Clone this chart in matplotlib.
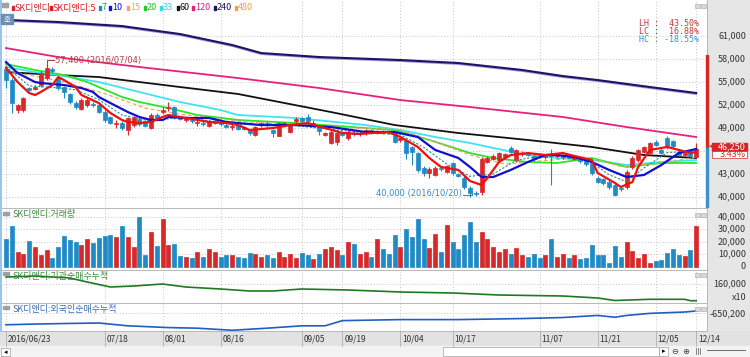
import numpy as np
import matplotlib.pyplot as plt
from matplotlib.patches import Rectangle
from matplotlib.transforms import blended_transform_factory as blend

plt.rcParams['font.family'] = ['Noto Sans CJK KR', 'DejaVu Sans']

# ---------------- data ----------------
tick_idx = [0, 17, 27, 37, 51, 58, 68, 77, 92, 102, 112, 119]
tick_lbl = ['2016/06/23', '07/18', '08/01', '08/16', '09/05', '09/19',
            '10/04', '10/17', '11/07', '11/21', '12/05', '12/14']

opens = [56700, 55300, 51400, 51300, 54200, 54100, 54600, 55500, 56700, 55500,
         54300, 53400, 52300, 51500, 52000, 52200, 52000, 51100, 50400, 49500,
         49700, 48700, 49400, 50200, 49900, 49000, 50700, 51100, 51600, 51700,
         50400, 50000, 50100, 49700, 49700, 49300, 49700, 49700, 49400, 49100,
         49200, 49100, 48700, 48100, 49400, 49700, 48700, 48000, 49400, 48500,
         49900, 50300, 50500, 49500, 49100, 48100, 47000, 47200, 48400, 47700,
         48400, 48200, 48300, 48700, 48400, 48500, 48600, 48400, 47400, 47400,
         46500, 45700, 43800, 43200, 42900, 43800, 43300, 44400, 43000, 42500,
         41200, 40500, 40700, 44600, 45000, 44800, 45200, 46400, 44800, 45600,
         45700, 45400, 45500, 45200, 45600, 45300, 45200, 45300, 45000, 45100,
         44800, 44400, 42500, 42300, 42000, 41600, 41200, 41300, 43900, 44800,
         45900, 45700, 47200, 46200, 47700, 47300, 45900, 45500, 46000, 45200]
closes = [55300, 52300, 52000, 52900, 54000, 54300, 56200, 56800, 56400, 54200,
          53700, 52400, 51700, 52700, 52700, 52000, 51100, 50000, 49700, 49600,
          49000, 50300, 50400, 49500, 49300, 50700, 50300, 51300, 51700, 50400,
          50200, 50400, 49900, 49800, 49500, 49900, 49900, 49500, 49200, 49200,
          48900, 48900, 48300, 49100, 49600, 49400, 48300, 49600, 49600, 49400,
          50200, 49900, 49900, 49600, 48600, 48300, 48500, 48400, 48100, 48500,
          48200, 48400, 48700, 48400, 48500, 48400, 48400, 47200, 47700, 45700,
          45900, 43500, 43100, 43700, 43800, 43600, 44000, 43100, 42800, 41300,
          40500, 40400, 44900, 45100, 45400, 45700, 45600, 45900, 46100, 45800,
          45500, 44900, 45300, 45400, 45400, 45500, 45400, 45100, 45200, 44700,
          44300, 43100, 42000, 41800, 41300, 40300, 41000, 43300, 45100, 46100,
          46500, 47000, 46800, 45800, 46500, 46600, 45500, 45800, 45400, 46250]
highs = [57200, 55500, 52200, 53000, 54400, 54600, 56400, 57400, 57000, 55800,
         54500, 53600, 52500, 52900, 53000, 52400, 52200, 51300, 50600, 50000,
         49900, 50500, 50600, 50400, 50100, 51000, 50900, 51800, 52400, 51900,
         50600, 50600, 50300, 50200, 49900, 50100, 50100, 49900, 49600, 49500,
         49400, 49300, 48900, 49300, 49800, 49900, 48900, 49800, 49800, 49600,
         50400, 50500, 50800, 50000, 49300, 48500, 48700, 48600, 48600, 48700,
         48600, 48600, 48900, 48900, 48700, 48700, 48800, 48600, 47900, 47600,
         46700, 45900, 44000, 43900, 44000, 44000, 44200, 44600, 43200, 42700,
         41400, 40800, 45200, 45300, 45600, 45900, 45800, 46600, 46300, 46000,
         45900, 45600, 45700, 45600, 46300, 45700, 45600, 45500, 45400, 45300,
         45000, 44600, 42700, 42500, 42200, 41800, 41400, 43500, 45300, 46300,
         46700, 47200, 47400, 46400, 47900, 47500, 46100, 46000, 46200, 47000]
lows = [54200, 51000, 50900, 51100, 53800, 53900, 54400, 55300, 56200, 54000,
        52900, 52200, 51500, 51300, 51800, 51800, 50900, 49800, 49500, 49000,
        48800, 48100, 49200, 49300, 49100, 48900, 50100, 50800, 51200, 50200,
        50000, 49800, 49700, 49300, 49300, 49100, 49500, 49300, 49000, 48700,
        48700, 48700, 48100, 47900, 49200, 49200, 47800, 47900, 49200, 48300,
        49700, 49700, 49700, 49200, 48100, 47900, 46900, 46800, 47900, 47500,
        48000, 48000, 48100, 48200, 48200, 48200, 48200, 47000, 47200, 45000,
        44200, 43300, 42700, 42500, 42700, 43400, 43100, 42900, 42600, 41100,
        40000, 40200, 40300, 44400, 44800, 44600, 45000, 45700, 44600, 45400,
        45300, 44700, 45100, 45000, 41600, 45100, 45000, 44900, 44800, 44500,
        44100, 42900, 41800, 41600, 41100, 40100, 40800, 41100, 43700, 44600,
        45700, 45500, 46600, 45600, 46300, 46400, 45300, 45300, 45200, 45100]

volume = [21.9, 32.6, 11.5, 10.2, 20.6, 16.0, 9.4, 13.4, 6.7, 15.5,
          24.5, 21.4, 19.5, 17.4, 22.2, 19.2, 22.7, 24.5, 25.1, 23.5,
          32.6, 23.5, 15.8, 40.0, 9.4, 27.5, 16.8, 38.2, 17.4, 18.4,
          8.8, 7.8, 7.2, 11.8, 7.8, 14.2, 11.5, 8.0, 9.4, 9.4,
          8.0, 7.2, 11.0, 9.9, 8.0, 9.0, 7.0, 12.0, 8.0, 10.0,
          7.0, 11.0, 9.0, 6.0, 10.0, 14.0, 16.0, 13.0, 9.0, 20.0,
          18.0, 10.0, 12.0, 8.0, 22.0, 14.0, 10.0, 25.0, 16.0, 30.0,
          24.0, 38.0, 22.0, 15.0, 26.0, 12.0, 33.0, 20.0, 14.0, 25.0,
          36.0, 20.0, 28.0, 22.0, 16.0, 12.0, 14.0, 10.0, 15.0, 9.0,
          8.0, 10.0, 7.0, 9.0, 22.0, 8.0, 10.0, 7.0, 9.0, 6.0,
          7.0, 17.0, 9.3, 9.3, 2.9, 16.5, 8.0, 20.0, 12.5, 6.7,
          10.0, 3.2, 4.5, 5.3, 11.2, 13.9, 9.3, 8.8, 13.4, 32.6]  # thousand shares

# moving averages, read at sample candles
ma5_i = [0, 2, 4, 5, 6, 8, 9, 10, 12, 13, 16, 18, 20, 21, 23, 25, 27, 28, 30, 32,
         35, 38, 40, 42, 46, 49, 52, 55, 58, 61, 63, 66, 68, 71, 73, 75, 78, 80, 82, 83,
         85, 87, 90, 93, 96, 98, 101, 102, 105, 106, 108, 109, 111, 114, 116, 118, 119]
ma5_v = [56830, 55000, 53570, 53310, 53700, 54610, 55650, 55260, 54350, 53310,
         52260, 50960, 50050, 49790, 49650, 49790, 50440, 50700, 50440, 50180,
         49790, 49650, 49390, 48740, 49000, 49390, 49650, 49000, 48350, 48220,
         48350, 48480, 47830, 46530, 45090, 43920, 43530, 42090, 41570, 42480,
         44570, 45480, 45740, 45480, 45740, 45350, 44830, 43140, 41830, 41310,
         41960, 43920, 46140, 46530, 46140, 45740, 45870]
ma7_i = [0, 4, 8, 12, 16, 20, 25, 30, 40, 50, 60, 68, 72, 76, 80, 84, 88, 94,
         100, 104, 107, 110, 114, 119]
ma7_v = [57000, 54500, 54300, 54000, 52700, 50700, 49900, 50400, 49500, 49300,
         48500, 48100, 46500, 44300, 42700, 43000, 44800, 45600, 45000, 42900,
         42000, 43800, 45800, 46000]
ma10_i = [0, 2, 5, 6, 8, 10, 13, 15, 16, 18, 21, 23, 25, 27, 28, 31, 35, 38, 40, 44,
          50, 56, 62, 67, 71, 74, 78, 80, 82, 84, 87, 90, 93, 95, 98, 101, 104, 107,
          110, 113, 116, 119]
ma10_v = [57610, 56170, 55000, 54870, 54740, 54610, 54220, 53700, 53050, 52260,
          51090, 50440, 50050, 50050, 50440, 50310, 50310, 49790, 49650, 49390,
          49390, 49130, 48480, 48480, 47830, 46140, 45090, 43920, 42610, 42610,
          43530, 44570, 45480, 45480, 45220, 44570, 43530, 42610, 42880, 44180,
          45740, 46270]
ma15_i = [0, 10, 17, 24, 30, 40, 50, 60, 68, 74, 80, 86, 92, 100, 106, 112, 119]
ma15_v = [56500, 55000, 53500, 51600, 50800, 49900, 49400, 49000, 48800, 47200,
          45500, 44300, 44700, 45200, 44000, 44300, 45200]
ma20_i = [0, 5, 10, 14, 20, 23, 28, 33, 40, 50, 62, 67, 73, 80, 84, 90, 95, 101,
          107, 113, 119]
ma20_v = [57350, 56570, 55910, 55000, 53050, 52390, 51610, 50700, 50050, 49650,
          49000, 48740, 47440, 45740, 45090, 44570, 44440, 45090, 43920, 44440, 44440]
ma33_i = [0, 6, 9, 16, 23, 30, 37, 40, 50, 62, 68, 74, 80, 84, 90, 95, 101, 107,
          113, 119]
ma33_v = [56960, 56170, 55910, 55000, 53700, 52390, 51350, 50700, 50310, 49390,
          48740, 47830, 47050, 46400, 45480, 45090, 44830, 44180, 44570, 44830]
ma60_i = [0, 9, 16, 30, 40, 56, 67, 78, 90, 101, 110, 119]
ma60_v = [56300, 55910, 55650, 54350, 53440, 51090, 49390, 48350, 47440, 46530,
          45480, 45090]
ma120_i = [0, 10, 23, 40, 54, 68, 80, 96, 107, 119]
ma120_v = [59430, 58130, 56960, 55520, 54220, 52650, 51740, 50440, 49130, 47830]
ma240_i = [0, 9, 20, 30, 39, 44, 54, 68, 78, 89, 96, 102, 111, 119]
ma240_v = [63100, 62830, 62300, 61260, 59830, 58780, 58260, 57870, 57480, 56570,
           55780, 55260, 54350, 53570]

# cumulative net buying (institutions, x10 / foreigners)
inst_i = [0, 5, 11, 14, 18, 22, 27, 31, 37, 42, 46, 51, 59, 68, 77, 85, 96, 102,
          105, 111, 117, 118, 119]
inst_v = [195000, 200000, 190000, 170000, 145000, 150000, 160000, 145000, 135000,
          125000, 125000, 135000, 130000, 120000, 115000, 105000, 100000, 90000,
          77500, 83500, 83500, 76500, 76500]
frgn_i = [0, 5, 11, 16, 21, 28, 33, 39, 45, 51, 55, 58, 68, 78, 89, 96, 102, 105,
          107, 111, 117, 119]
frgn_v = [-870200, -856200, -844200, -836200, -890200, -924200, -936200, -976200,
          -936200, -890200, -890200, -790200, -770200, -770200, -750200, -730200,
          -690200, -724200, -690200, -650200, -624200, -604200]

price_ticks = [61000, 58000, 55000, 52000, 49000, 43000, 40000]
vol_ticks = [40, 30, 20, 10, 0]

# ---------------- layout helpers (pixels) ----------------
W, H = 750, 357
RED, BLUE = '#d8282a', '#1f8bc6'


def rect(x0, y0, x1, y1):
    return [x0 / W, 1 - y1 / H, (x1 - x0) / W, (y1 - y0) / H]


def fx(x):
    return x / W


def fy(y):
    return 1 - y / H


def box(x0, y0, x1, y1, **kw):
    fig.patches.append(Rectangle((fx(x0), fy(y1)), fx(x1) - fx(x0), fy(y0) - fy(y1),
                                 transform=fig.transFigure, **kw))


fig = plt.figure(figsize=(7.5, 3.57), dpi=100)
fig.patch.set_facecolor('white')

# grey right scale strip and date strip (under the axes)
box(707, 0, 750, 346, color='#e6e6e6', zorder=-2)
box(0, 331, 750, 346, color='#e2e2e2', zorder=-2)
box(0, 346, 750, 357, color='#f3f3f3', zorder=-2)

XL = ((3 - 6) / 5.8, (707 - 6) / 5.8)
n = len(closes)
idx = np.arange(n)
up = np.array(closes) >= np.array(opens)
cols = np.where(up, RED, BLUE)

grid_kw = dict(color='#c4c4c4', lw=0.7, ls=(0, (1, 2)), zorder=0)


def panel(y0, y1, ylim):
    ax = fig.add_axes(rect(3, y0, 707, y1))
    ax.set_xlim(*XL)
    ax.set_ylim(*ylim)
    ax.set_xticks([])
    ax.set_yticks([])
    for s in ax.spines.values():
        s.set_visible(False)
    for t in tick_idx:
        ax.axvline(t, **grid_kw)
    return ax


# ---------------- price panel ----------------
ax = panel(0, 207, (38700, 65700))
for p in price_ticks + [46000]:
    ax.axhline(p, **grid_kw)

ax.vlines(idx, lows, highs, colors=cols, lw=0.8, zorder=3)
body_lo = np.minimum(opens, closes)
body_h = np.maximum(np.abs(np.array(closes) - np.array(opens)), 120)
ax.bar(idx, body_h, bottom=body_lo, width=0.72, color=cols, edgecolor=cols,
       lw=0.5, zorder=4)

pp = (65700 - 38700) / 207  # price per pixel
ax.plot(ma240_i, np.array(ma240_v) - 1.2 * pp, color='#a58fd8', lw=1.1, zorder=2)
ax.plot(ma240_i, ma240_v, color='#1c1464', lw=1.5, zorder=2)
ax.plot(ma120_i, ma120_v, color='#e8207c', lw=1.3, zorder=2)
ax.plot(ma60_i, ma60_v, color='#111111', lw=1.3, zorder=2)
ax.plot(ma33_i, ma33_v, color='#3fe3f2', lw=1.3, zorder=2)
ax.plot(ma20_i, ma20_v, color='#28e628', lw=1.3, zorder=2)
ax.plot(ma15_i, ma15_v, color='#f5a36a', lw=0.9, ls=(0, (3, 2)), zorder=2)
ax.plot(ma7_i, ma7_v, color='#2b8f8f', lw=0.8, ls=(0, (2, 1.5)), zorder=5)
ax.plot(ma10_i, ma10_v, color='#1010d0', lw=1.6, zorder=5)
ax.plot(ma5_i, ma5_v, color='#f01010', lw=1.6, zorder=5)

# high / low marks
ax.plot([7, 7, 8.3], [highs[7], highs[7] + 4 * pp, highs[7] + 4 * pp], color='#b04040', lw=0.8)
ax.text(8.5, highs[7] + 3.6 * pp, '57,400 (2016/07/04)', color='#b04040', fontsize=6,
        va='center', ha='left', family=['DejaVu Sans'])
ax.plot([78.8, 80.3, 80.3], [lows[80] + 2 * pp, lows[80] + 2 * pp, lows[80] + 6 * pp],
        color='#3a8cc0', lw=0.8)
ax.text(78.6, lows[80] + 4 * pp, '40,000 (2016/10/20)', color='#3a8cc0', fontsize=6,
        va='center', ha='right', family=['DejaVu Sans'])

tr = blend(fig.transFigure, ax.transData)
for p in price_ticks:
    ax.text(fx(746), p, f'{p:,}', transform=tr, ha='right', va='center',
            fontsize=6.5, color='#333333', clip_on=False)
last = closes[-1]
box(712, 143, 747, 150.5, color='#d42828', zorder=5)
fig.text(fx(746), fy(146.8), f'{last:,}', ha='right', va='center', fontsize=6.5,
         color='white', zorder=6)
box(712, 150.5, 747, 158, facecolor='white', edgecolor='#d42828', lw=0.5, zorder=5)
fig.text(fx(746), fy(154.3), '3.43%', ha='right', va='center', fontsize=6.5,
         color='#d42828', zorder=6)
fig.text(fx(708.5), fy(146.5), '◀', ha='left', va='center', fontsize=5, color='#d42828',
         family=['DejaVu Sans'])
# range bar on the scale edge
box(705.5, 55, 708, 148, color='#d42828', zorder=5)
box(705.5, 148, 708, 207, color='#3a92cc', zorder=5)

# LH / LC / HC
for y, t, c in [(24, 'LH :  43.50%', '#cc3333'), (31.5, 'LC :  16.88%', '#cc3333'),
                (39, 'HC : -18.55%', '#3a92cc')]:
    fig.text(fx(699), fy(y), t, ha='right', va='center', fontsize=6, color=c,
             family=['DejaVu Sans Mono'])

# legend row
legend = [('SK디앤디', '#d42828', 15), ('SK디앤디:5', '#e01818', 53), ('7', '#2b8f8f', 102),
          ('10', '#1010d0', 112), ('15', '#f5a36a', 130), ('20', '#22cc22', 147),
          ('33', '#33d6e8', 163), ('60', '#111111', 180), ('120', '#e8207c', 195),
          ('240', '#1c1464', 217), ('480', '#f5a040', 238)]
for t, c, x in legend:
    box(x - 3, 6, x - 1, 10, color=c, zorder=6)
    fig.text(fx(x), fy(8), t, ha='left', va='center', fontsize=6.5, color=c, zorder=6)
box(2, 3, 8, 7, color='#a0a0a0', zorder=6)
box(1, 14, 13, 24, color='#6e8fb4', zorder=6)
fig.text(fx(7), fy(19), '호', ha='center', va='center', fontsize=5.5, color='white', zorder=7)

# ---------------- volume panel ----------------
av = panel(208, 269, (-1.84, 46.96))
for v in vol_ticks[:-1]:
    av.axhline(v, **grid_kw)
av.bar(idx, volume, width=0.72, color=cols, edgecolor=cols, lw=0.5, zorder=3)
trv = blend(fig.transFigure, av.transData)
for v in vol_ticks:
    av.text(fx(746), v, f'{v * 1000:,}', transform=trv, ha='right', va='center',
            fontsize=6.5, color='#333333', clip_on=False)
fig.text(fx(13), fy(215), 'SK디앤디:거래량', ha='left', va='center', fontsize=6.5,
         color='#3a8a3a')

# ---------------- institutions ----------------
ai = panel(270, 302, (70000, 230000))
ai.axhline(160000, **grid_kw)
ai.plot(inst_i, inst_v, color='#1e7a1e', lw=1.2, zorder=3)
tri = blend(fig.transFigure, ai.transData)
ai.text(fx(746), 160000, '160,000', transform=tri, ha='right', va='center', fontsize=6.5,
        color='#333333', clip_on=False)
fig.text(fx(746), fy(297), 'x10', ha='right', va='center', fontsize=6.5, color='#333333')
fig.text(fx(13), fy(276), 'SK디앤디:기관순매수누적', ha='left', va='center', fontsize=6.5,
         color='#3a8a3a')

# ---------------- foreigners ----------------
af = panel(303, 331, (-990200, -450200))
af.axhline(-650200, **grid_kw)
af.plot(frgn_i, frgn_v, color='#1f5fbf', lw=1.2, zorder=3)
trf = blend(fig.transFigure, af.transData)
af.text(fx(746), -650200, '-650,200', transform=trf, ha='right', va='center', fontsize=6.5,
        color='#333333', clip_on=False)
fig.text(fx(13), fy(309.5), 'SK디앤디:외국인순매수누적', ha='left', va='center', fontsize=6.5,
         color='#3a6ab0')

# panel separators, borders, small buttons
for y in [207.5, 269.5, 302.5, 331]:
    fig.add_artist(plt.Line2D([0, fx(707)], [fy(y), fy(y)], color='#b8b8b8', lw=0.7))
fig.add_artist(plt.Line2D([fx(707), fx(707)], [fy(331), 1], color='#b8b8b8', lw=0.7))
fig.add_artist(plt.Line2D([fx(1), fx(1)], [fy(331), 1], color='#9fc3e6', lw=1.5))
for y in [4, 213, 273, 307]:
    for x in [695, 701]:
        box(x, y, x + 4.5, y + 4, facecolor='#d8d8d8', edgecolor='#a8a8a8', lw=0.4, zorder=6)
    if y != 4:
        box(3, y - 1, 9, y + 2, color='#a0a0a0', zorder=6)

# date strip
for t, lab in zip(tick_idx, tick_lbl):
    x = 6 + 5.8 * t
    fig.add_artist(plt.Line2D([fx(x), fx(x)], [fy(346), fy(331)], color='#b0b0b0', lw=0.6))
    fig.text(fx(x + 2), fy(339), lab, ha='left', va='center', fontsize=6, color='#333333')

# scroll bar
box(1, 348, 10, 356, facecolor='white', edgecolor='#a0a0a0', lw=0.5)
fig.text(fx(5.5), fy(352), '◂', ha='center', va='center', fontsize=5, family=['DejaVu Sans'])
box(443, 347, 659, 356, facecolor='white', edgecolor='#a0a0a0', lw=0.5)
box(659, 347, 668, 356, facecolor='white', edgecolor='#a0a0a0', lw=0.5)
fig.text(fx(663.5), fy(351.5), '▸', ha='center', va='center', fontsize=5, family=['DejaVu Sans'])
for x, s in [(675, '⊖'), (686, '⊕')]:
    fig.text(fx(x), fy(351.5), s, ha='center', va='center', fontsize=6, color='#444444',
             family=['DejaVu Sans'])
for x in [695.5, 697.5, 699.5]:
    fig.add_artist(plt.Line2D([fx(x), fx(x)], [fy(354), fy(348)], color='#555555', lw=0.5))
fig.add_artist(plt.Line2D([fx(707), fx(745)], [fy(350), fy(350)], color='#555555', lw=0.6))

fig.savefig('out.png', dpi=100)
